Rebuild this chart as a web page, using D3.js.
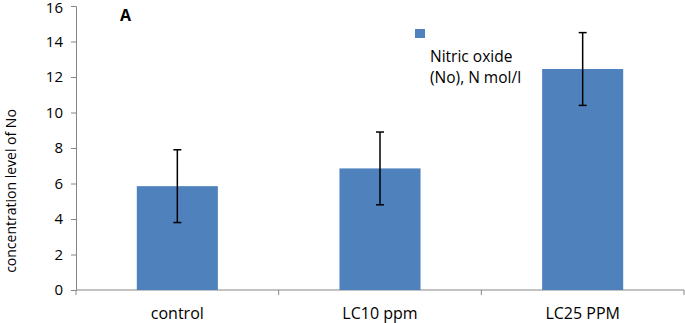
<!DOCTYPE html>
<html>
<head>
<meta charset="utf-8">
<script src="https://cdn.jsdelivr.net/npm/d3@7"></script>
<style>
  body { margin: 0; background: #fff; }
  svg text { font-family: "Open Sans", Carlito, Calibri, sans-serif; fill: #000; }
</style>
</head>
<body>
<div id="chart"></div>
<script>
const categories = ['control', 'LC10 ppm', 'LC25 PPM']
const values = [5.85, 6.85, 12.45]
const errors = [2.05, 2.05, 2.05]
const yTicks = [0, 2, 4, 6, 8, 10, 12, 14, 16]
const seriesName = ['Nitric oxide', '(No), N mol/l']

const width = 685
const height = 323
const margin = { top: 6, right: 1, bottom: 33, left: 76 }

const svg = d3.select('#chart')
  .append('svg')
  .attr('width', width)
  .attr('height', height)

const x = d3.scaleBand()
  .domain(categories)
  .range([margin.left, width - margin.right])
  .paddingInner(0.6)
  .paddingOuter(0.3)

const y = d3.scaleLinear()
  .domain([0, 16])
  .range([height - margin.bottom, margin.top])

const axisColor = '#868686'

// y axis
const yAxis = d3.axisLeft(y).tickValues(yTicks).tickSize(5).tickPadding(8)
const gy = svg.append('g')
  .attr('transform', `translate(${margin.left},0)`)
  .call(yAxis)
gy.select('.domain').attr('stroke', axisColor)
gy.selectAll('.tick line').attr('stroke', axisColor)
gy.selectAll('.tick text')
  .style('font-size', '15px')
  .attr('fill', '#000')
  .attr('dy', d => (d === 16 ? '0.42em' : '0.32em'))

// x axis: category boundaries as ticks
const xStart = margin.left
const xEnd = width - margin.right
const gx = svg.append('g')
gx.append('line')
  .attr('x1', xStart).attr('x2', xEnd)
  .attr('y1', y(0)).attr('y2', y(0))
  .attr('stroke', axisColor)
gx.selectAll('.bound')
  .data(d3.range(categories.length + 1))
  .join('line')
  .attr('class', 'bound')
  .attr('x1', i => xStart + i * (xEnd - xStart) / categories.length)
  .attr('x2', i => xStart + i * (xEnd - xStart) / categories.length)
  .attr('y1', y(0))
  .attr('y2', y(0) + 5)
  .attr('stroke', axisColor)
gx.selectAll('.cat')
  .data(categories)
  .join('text')
  .attr('class', 'cat')
  .attr('x', d => x(d) + x.bandwidth() / 2)
  .attr('y', y(0) + 29)
  .attr('text-anchor', 'middle')
  .style('font-size', '16px')
  .text(d => d)

// bars
svg.selectAll('.bar')
  .data(categories)
  .join('rect')
  .attr('class', 'bar')
  .attr('x', d => x(d))
  .attr('width', x.bandwidth())
  .attr('y', (d, i) => y(values[i]))
  .attr('height', (d, i) => y(0) - y(values[i]))
  .attr('fill', '#4F81BD')

// error bars
const eb = svg.selectAll('.err')
  .data(categories)
  .join('g')
  .attr('class', 'err')
  .attr('stroke', '#000')
  .attr('stroke-width', 1.5)
eb.append('line')
  .attr('x1', d => x(d) + x.bandwidth() / 2)
  .attr('x2', d => x(d) + x.bandwidth() / 2)
  .attr('y1', (d, i) => y(values[i] + errors[i]))
  .attr('y2', (d, i) => y(values[i] - errors[i]))
eb.append('line')
  .attr('x1', d => x(d) + x.bandwidth() / 2 - 4)
  .attr('x2', d => x(d) + x.bandwidth() / 2 + 4)
  .attr('y1', (d, i) => y(values[i] + errors[i]))
  .attr('y2', (d, i) => y(values[i] + errors[i]))
eb.append('line')
  .attr('x1', d => x(d) + x.bandwidth() / 2 - 4)
  .attr('x2', d => x(d) + x.bandwidth() / 2 + 4)
  .attr('y1', (d, i) => y(values[i] - errors[i]))
  .attr('y2', (d, i) => y(values[i] - errors[i]))

// y axis title
svg.append('text')
  .attr('transform', 'translate(16,191) rotate(-90)')
  .attr('text-anchor', 'middle')
  .style('font-size', '14px')
  .text('concentration level of No')

// panel letter
svg.append('text')
  .attr('x', 120)
  .attr('y', 21)
  .style('font-size', '16px')
  .style('font-weight', 'bold')
  .text('A')

// legend
const legend = svg.append('g').attr('transform', 'translate(415,29)')
legend.append('rect')
  .attr('width', 10)
  .attr('height', 9)
  .attr('fill', '#4F81BD')
legend.selectAll('text')
  .data(seriesName)
  .join('text')
  .attr('x', 15)
  .attr('y', (d, i) => 33 + i * 21)
  .style('font-size', '15.5px')
  .text(d => d)
</script>
</body>
</html>
